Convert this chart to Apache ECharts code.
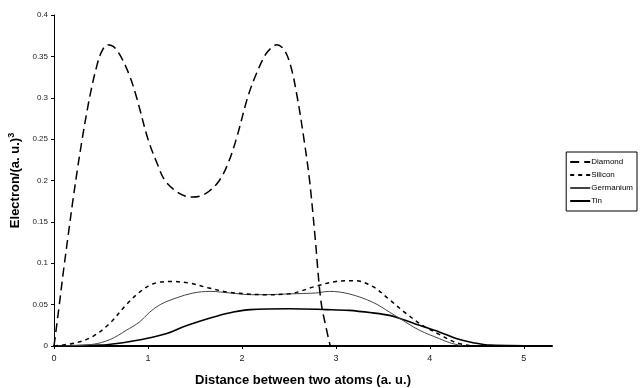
<!DOCTYPE html>
<html><head><meta charset="utf-8">
<script src="https://cdn.jsdelivr.net/npm/echarts@6/dist/echarts.min.js"></script>
<style>html,body{margin:0;padding:0;background:#fff}#c{width:640px;height:388px}</style>
</head><body><div id="c"></div>
<script>
const seriesNames = ["Diamond", "Silicon", "Germanium", "Tin"];
const diamondX = [0,0.05,0.1,0.15,0.2,0.25,0.3,0.35,0.4,0.45,0.5,0.57,0.63,0.7,0.8,0.88,1.0,1.1,1.18,1.3,1.4,1.47,1.55,1.65,1.76,1.85,1.94,2.06,2.15,2.25,2.32,2.37,2.45,2.52,2.59,2.66,2.72,2.78,2.84,2.9,2.94];
const diamondY = [0,0.044,0.09,0.133,0.175,0.214,0.25,0.283,0.312,0.336,0.354,0.364,0.362,0.352,0.328,0.3,0.25,0.22,0.2,0.187,0.181,0.18,0.181,0.187,0.2,0.22,0.25,0.3,0.328,0.352,0.361,0.364,0.358,0.338,0.3,0.25,0.2,0.13,0.055,0.02,0];
const siliconX = [0,0.24,0.42,0.59,0.77,0.91,1.05,1.23,1.44,1.65,1.86,2.05,2.25,2.5,2.78,3.0,3.2,3.39,3.57,3.74,3.92,4.1,4.28,4.45];
const siliconY = [0,0.004,0.012,0.027,0.05,0.065,0.075,0.078,0.076,0.07,0.065,0.063,0.062,0.063,0.072,0.078,0.079,0.072,0.056,0.04,0.025,0.014,0.004,0];
const germaniumX = [0,0.41,0.6,0.77,0.91,1.02,1.13,1.3,1.48,1.66,1.88,2.1,2.25,2.5,2.78,2.93,3.14,3.39,3.57,3.67,3.89,4.1,4.21,4.35];
const germaniumY = [0,0.002,0.008,0.019,0.029,0.041,0.05,0.058,0.064,0.066,0.064,0.062,0.062,0.063,0.064,0.066,0.063,0.053,0.041,0.034,0.019,0.009,0.004,0];
const tinX = [0,0.5,0.67,0.84,1.02,1.2,1.37,1.55,1.73,1.91,2.09,2.5,2.9,3.14,3.39,3.57,3.69,3.89,4.1,4.28,4.46,4.64,5.3];
const tinY = [0,0.001,0.003,0.006,0.01,0.015,0.023,0.03,0.036,0.041,0.044,0.045,0.044,0.043,0.04,0.037,0.033,0.025,0.017,0.009,0.004,0.001,0];
const xTicks = [0,1,2,3,4,5];
const yTicks = [0,0.05,0.1,0.15,0.2,0.25,0.3,0.35,0.4];

const zip = (xs, ys) => xs.map((x, i) => [x, ys[i]]);
const styles = [
  {color:'#000', width:1.5, type:[9,5]},
  {color:'#000', width:1.5, type:[4,4]},
  {color:'#444', width:1, type:'solid'},
  {color:'#000', width:1.6, type:'solid'}
];
const datas = [zip(diamondX, diamondY), zip(siliconX, siliconY), zip(germaniumX, germaniumY), zip(tinX, tinY)];

const chart = echarts.init(document.getElementById('c'), null, {renderer:'canvas'});
chart.setOption({
  animation: false,
  backgroundColor: '#fff',
  grid: {left: 54, top: 15, right: 88, bottom: 42, containLabel: false, outerBoundsMode: 'none'},
  xAxis: {
    type: 'value', min: 0, max: 5.3, interval: 1,
    name: 'Distance between two atoms (a. u.)', nameLocation: 'middle', nameGap: 28,
    nameTextStyle: {fontFamily: 'Liberation Sans', fontWeight: 'bold', fontSize: 13, color: '#000'},
    axisLine: {lineStyle: {color: '#000', width: 2}},
    axisTick: {show: true, length: 3, lineStyle: {color: '#000'}},
    axisLabel: {fontFamily: 'Liberation Sans', fontSize: 9, color: '#222', margin: 8,
      showMaxLabel: false,
      formatter: v => xTicks.includes(v) ? String(v) : ''},
    splitLine: {show: false}
  },
  yAxis: {
    type: 'value', min: 0, max: 0.4, interval: 0.05,
    name: '{t|Electron/(a. u.)}{s|3}', nameLocation: 'middle', nameGap: 30, nameRotate: 90,
    nameTextStyle: {fontFamily: 'Liberation Sans', fontWeight: 'bold', fontSize: 13, color: '#000',
      rich: {
        t: {fontFamily: 'Liberation Sans', fontWeight: 'bold', fontSize: 13, color: '#000'},
        s: {fontFamily: 'Liberation Sans', fontWeight: 'bold', fontSize: 9, color: '#000', verticalAlign: 'top', padding: [0,0,8,0]}
      }},
    axisLine: {show: true, lineStyle: {color: '#000', width: 1}},
    axisTick: {show: true, length: 3, lineStyle: {color: '#000'}},
    axisLabel: {fontFamily: 'Liberation Sans', fontSize: 8, color: '#222', margin: 6,
      formatter: v => { const t = yTicks.find(k => Math.abs(k - v) < 1e-9); return t === undefined ? '' : String(t); }},
    splitLine: {show: false}
  },
  legend: {
    orient: 'vertical', right: 3, top: 152,
    data: seriesNames,
    itemWidth: 20, itemHeight: 8, itemGap: 5,
    padding: [6, 4, 6, 3],
    borderColor: '#000', borderWidth: 1,
    itemStyle: {opacity: 0},
    textStyle: {fontFamily: 'Liberation Sans', fontSize: 8, color: '#000', padding: [0,0,0,-4]}
  },
  series: seriesNames.map((n, i) => ({
    name: n, type: 'line', data: datas[i], smooth: 0.35, symbol: 'none',
    lineStyle: styles[i], itemStyle: {color: styles[i].color}, z: 4 - i
  }))
});
</script></body></html>
